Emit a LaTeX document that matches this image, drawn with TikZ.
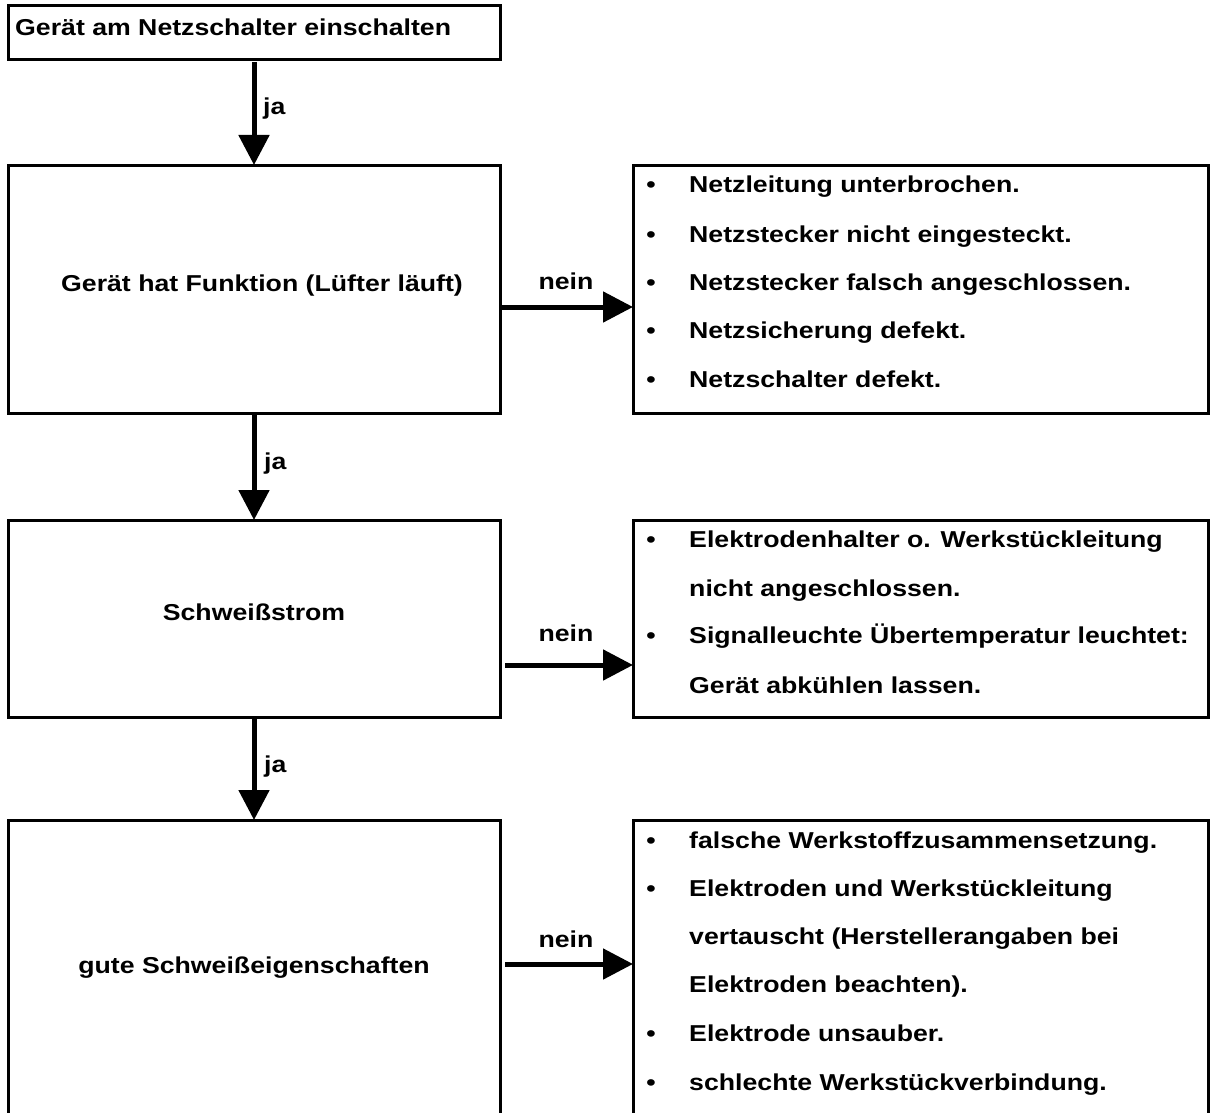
\documentclass[tikz,border=0pt]{standalone}
\usepackage{fontspec}
\setmainfont[FakeStretch=1.16]{Liberation Sans}
\usetikzlibrary{arrows.meta}
\begin{document}
\begin{tikzpicture}[x=1pt,y=-1pt,
  box/.style={draw, line width=3pt, inner sep=0pt, outer sep=0pt, anchor=north west},
  txt/.style={font=\fontsize{23}{27}\selectfont\bfseries, inner sep=0pt},
  flow/.style={line width=5pt, -{Triangle[length=30pt,width=30pt]}},
]
\useasboundingbox (0,0) rectangle (1210,1113);
\clip (0,0) rectangle (1210,1113);
% boxes
\node[box, minimum width=492pt, minimum height=54pt] (b1) at (8,6) {};
\node[box, minimum width=492pt, minimum height=248pt] (b2) at (8,165) {};
\node[box, minimum width=575pt, minimum height=248pt] (r2) at (633,165) {};
\node[box, minimum width=492pt, minimum height=197pt] (b3) at (8,520) {};
\node[box, minimum width=575pt, minimum height=197pt] (r3) at (633,520) {};
\node[box, minimum width=492pt, minimum height=320pt] (b4) at (8,820) {};
\node[box, minimum width=575pt, minimum height=320pt] (r4) at (633,820) {};
% box texts
\node[txt, anchor=base west] (t1) at (15,36) {Gerät am Netzschalter einschalten};
\node[txt, anchor=base] (t2) at (262,291) {Gerät hat Funktion (Lüfter läuft)};
\node[txt, anchor=base] (t3) at (254,620) {Schweißstrom};
\node[txt, anchor=base] (t4) at (254,973) {gute Schweißeigenschaften};
% vertical arrows
\draw[flow] ([yshift=-2pt]b1.south) -- (b2.north);
\draw[flow] (b2.south) -- (b3.north);
\draw[flow] (b3.south) -- (b4.north);
\node[txt, anchor=base west] (ja1) at (263,115) {ja};
\node[txt, anchor=base west] (ja2) at (264,469) {ja};
\node[txt, anchor=base west] (ja3) at (264,772) {ja};
% horizontal arrows
\draw[flow] ([yshift=-18pt]b2.east) -- ([yshift=-18pt]r2.west);
\draw[flow] ([xshift=5pt,yshift=-46.5pt]b3.east) -- ([yshift=-46.5pt]r3.west);
\draw[flow] ([xshift=5pt,yshift=16pt]b4.east) -- ([yshift=16pt]r4.west);
\node[txt, anchor=base] (n1) at (566,289) {nein};
\node[txt, anchor=base] (n2) at (566,641) {nein};
\node[txt, anchor=base] (n3) at (566,947) {nein};
% list 2
\node[txt, anchor=base] (p21) at (651,193) {•};
\node[txt, anchor=base] (p22) at (651,242) {•};
\node[txt, anchor=base] (p23) at (651,290) {•};
\node[txt, anchor=base] (p24) at (651,338) {•};
\node[txt, anchor=base] (p25) at (651,387) {•};
\node[txt, anchor=base west] (l21) at (689,193) {Netzleitung unterbrochen.};
\node[txt, anchor=base west] (l22) at (689,242) {Netzstecker nicht eingesteckt.};
\node[txt, anchor=base west] (l23) at (689,290) {Netzstecker falsch angeschlossen.};
\node[txt, anchor=base west] (l24) at (689,338) {Netzsicherung defekt.};
\node[txt, anchor=base west] (l25) at (689,387) {Netzschalter defekt.};
% list 3
\node[txt, anchor=base] (p31) at (651,547) {•};
\node[txt, anchor=base] (p33) at (651,643) {•};
\node[txt, anchor=base west] (l31) at (689,547) {Elektrodenhalter o. Werkstückleitung};
\node[txt, anchor=base west] (l32) at (689,596) {nicht angeschlossen.};
\node[txt, anchor=base west] (l33) at (689,643) {Signalleuchte Übertemperatur leuchtet:};
\node[txt, anchor=base west] (l34) at (689,693) {Gerät abkühlen lassen.};
% list 4
\node[txt, anchor=base] (p41) at (651,848) {•};
\node[txt, anchor=base] (p42) at (651,896) {•};
\node[txt, anchor=base] (p45) at (651,1041) {•};
\node[txt, anchor=base] (p46) at (651,1090) {•};
\node[txt, anchor=base west] (l41) at (689,848) {falsche Werkstoffzusammensetzung.};
\node[txt, anchor=base west] (l42) at (689,896) {Elektroden und Werkstückleitung};
\node[txt, anchor=base west] (l43) at (689,944) {vertauscht (Herstellerangaben bei};
\node[txt, anchor=base west] (l44) at (689,992) {Elektroden beachten).};
\node[txt, anchor=base west] (l45) at (689,1041) {Elektrode unsauber.};
\node[txt, anchor=base west] (l46) at (689,1090) {schlechte Werkstückverbindung.};
\end{tikzpicture}
\end{document}
